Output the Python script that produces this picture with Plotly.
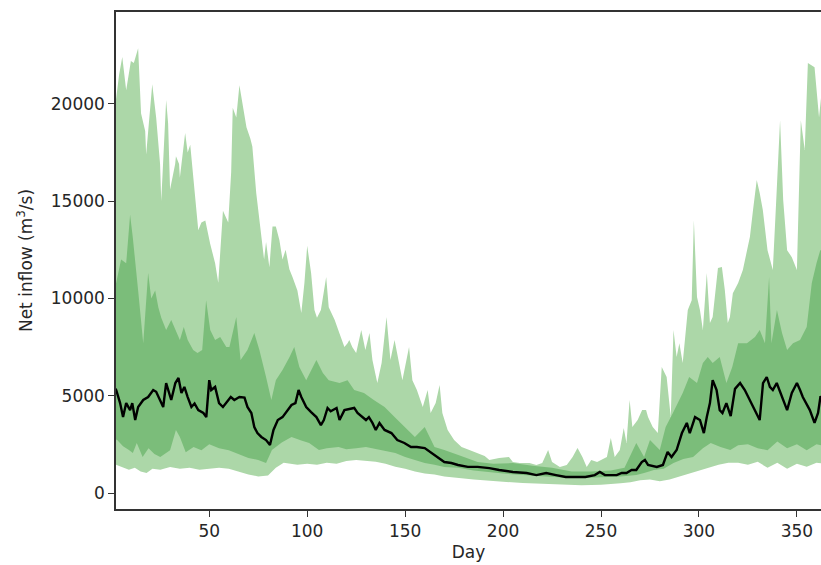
import plotly.graph_objects as go

# ---- data ----
max_days = [1, 2.5, 4, 5.6, 7.6, 10, 11.5, 13.7, 15.2, 17.3, 17.8, 19.5, 20.9, 22.9, 24.9, 25.5, 28, 29, 30, 32.6,
            33, 34.6, 35, 37.7, 39, 40.3, 42.8, 44.4, 46, 48, 50.5, 53, 54.6, 55.6, 57, 59.7, 61.2, 62, 63.8, 65.4,
            67, 69, 71, 72, 74, 76.6, 78, 79, 80.7, 82.3, 84, 85.8, 87.4, 89, 90.9, 92.5, 95, 97, 98.6, 100,
            102, 103.7, 105, 107, 109.7, 111, 114, 116.5, 119, 120.6, 121.5, 123, 125, 127.6, 129.7, 131.8, 133.3, 135.8, 138, 140.5,
            142.5, 144.6, 146, 148.6, 152, 153.7, 156, 159, 161.5, 163, 165.6, 167.6, 169, 171.7, 175, 178.8, 182.8, 187, 190.6, 193,
            198, 203, 205, 208.5, 213.5, 217, 220, 223, 225, 229, 232.5, 235.5, 238, 240.5, 242.7, 245, 248, 250, 253, 255,
            257, 259.6, 261.6, 263, 264.6, 266, 268.7, 271, 273, 274, 276.4, 279, 281, 283.5, 285.6, 287, 288.6, 290, 291.7, 294.3,
            296.3, 297.4, 299, 300.5, 302, 304, 305.6, 307, 309.7, 311.7, 313.2, 314.7, 315.8, 317.3, 320, 322.4, 326, 327.6, 329.5, 331,
            332.6, 335, 337.7, 339.7, 341.4, 343, 345, 347.4, 350, 352, 354, 355.6, 359, 361.3, 363, 365]
max_vals = [19500, 20300, 21500, 22400, 20700, 22200, 22100, 22850, 19500, 18600, 17400, 19500, 21000, 19300, 16900, 15000, 20200, 19000, 15600, 16900,
            17300, 16900, 16200, 18500, 17500, 17900, 15200, 13500, 13900, 14000, 12800, 11800, 10800, 12600, 14500, 13900, 16500, 19800, 19300, 20950,
            20000, 18800, 18200, 17800, 15400, 13000, 12000, 12900, 11600, 13700, 13700, 13000, 12000, 12500, 11500, 11100, 10400, 9250, 10800, 12700,
            11300, 9400, 9000, 9400, 11100, 9550, 8900, 8200, 7500, 7700, 7860, 7500, 7200, 8370, 7350, 8220, 6830, 5650, 6680, 9040,
            6830, 7860, 7190, 5800, 7500, 5800, 5290, 4420, 5290, 4110, 4620, 5550, 4110, 3240, 2720, 2360, 2210, 2050, 1900, 1700,
            1800, 1850, 1590, 1540, 1540, 1440, 1540, 2210, 1590, 1340, 1440, 1850, 2310, 1850, 1340, 1700, 1590, 1700, 1850, 2830,
            1850, 2210, 3340, 2570, 4780, 3390, 3750, 4260, 4260, 3900, 3390, 3080, 6470, 5960, 3900, 8370, 6990, 7700, 6680, 9400,
            9910, 14020, 10070, 9400, 8370, 11300, 8730, 9040, 11560, 11610, 10430, 8730, 9040, 10270, 10790, 11460, 13150, 14540, 16080, 15410,
            14540, 12480, 11460, 15570, 19160, 15050, 12480, 12120, 11460, 19160, 17620, 22090, 21880, 19300, 21000, 20500]

min_days = [1, 3, 6, 9, 12, 15, 18, 21, 25, 30, 35, 40, 45, 50, 55, 60, 65, 70, 75, 80,
            84, 88, 95, 100, 105, 110, 115, 120, 125, 130, 135, 140, 145, 150, 155, 160, 165, 170, 175, 180,
            185, 190, 195, 200, 210, 220, 230, 240, 250, 260, 265, 270, 275, 280, 285, 290, 295, 300, 305, 310,
            315, 320, 325, 330, 335, 340, 345, 350, 355, 360, 365]
min_vals = [1500, 1440, 1300, 1200, 1300, 1100, 1030, 1250, 1200, 1340, 1250, 1300, 1200, 1250, 1300, 1250, 1100, 950, 850, 900,
            1300, 1550, 1450, 1500, 1450, 1550, 1500, 1650, 1700, 1650, 1600, 1500, 1350, 1250, 1100, 1000, 950, 850, 800, 750,
            700, 650, 600, 580, 520, 480, 430, 400, 430, 500, 550, 650, 700, 600, 700, 850, 1000, 1150, 1300, 1450,
            1550, 1550, 1450, 1600, 1300, 1550, 1250, 1500, 1350, 1550, 1500]

q75_days = [1, 2.5, 5, 7.6, 9.6, 11, 13.7, 16.3, 18.8, 20.4, 22.4, 24, 25.5, 28, 30.6, 33, 35, 37, 39, 41.8,
            44, 46.4, 48.4, 50.5, 53, 55.6, 58.7, 60.3, 63.8, 66, 69.5, 73, 75.6, 79, 81.7, 84, 87.4, 91, 93.4, 96,
            99.5, 102, 104.7, 108, 111, 116.5, 120.6, 124, 129, 134, 139.5, 144.6, 149.6, 155, 160, 165, 170, 175, 180, 187,
            195, 205, 215, 225, 235, 245, 255, 262, 268, 272, 275, 280, 283, 286.7, 291.7, 295, 299, 302, 304.5, 307,
            310.6, 314, 317, 320, 324.5, 328.6, 331, 333.7, 335.8, 337, 339.8, 342.4, 345, 348, 351.6, 355, 357.6, 360, 362, 365]
q75_vals = [10500, 10800, 12000, 11800, 14300, 13100, 10400, 7700, 11300, 10000, 10400, 9550, 9000, 8370, 8890, 8370, 7860, 8530, 7860, 7350,
            7190, 7350, 9910, 8370, 7860, 8010, 7500, 7500, 9040, 6830, 7350, 8220, 7350, 5960, 4780, 5800, 6320, 6990, 7500, 6470,
            5800, 6300, 6830, 6160, 5800, 5650, 5800, 5290, 5140, 4780, 4420, 3900, 3390, 2880, 3390, 2360, 2210, 2050, 1850, 1590,
            1500, 1540, 1400, 1300, 1100, 1100, 1150, 1300, 2570, 1850, 2720, 2210, 3390, 4110, 5140, 5960, 5650, 6680, 6990, 6680,
            6990, 5650, 6470, 7700, 7700, 8010, 8370, 7700, 11100, 7700, 9400, 8220, 7350, 7700, 7860, 8530, 10790, 11810, 12500, 12000]

q25_days = [1, 3, 6, 9, 11, 13, 16, 19, 22, 25, 30, 33, 35, 38, 42, 46, 50, 55, 60, 65,
            70, 75, 79, 82, 87, 92, 97, 101, 106, 110, 116, 120, 125, 130, 135, 140, 145, 150, 155, 160,
            165, 170, 177, 185, 190, 200, 210, 220, 230, 240, 250, 260, 268, 272, 277, 282, 287, 292, 297, 302,
            306, 311, 316, 320, 325, 330, 335, 340, 345, 350, 355, 360, 365]
q25_vals = [2800, 2720, 2400, 2210, 2050, 2570, 1850, 2300, 2000, 1850, 2200, 3240, 2880, 2100, 2360, 2200, 2500, 2300, 2200, 2000,
            1800, 1700, 1540, 2210, 2600, 2880, 2700, 2570, 2210, 2300, 2360, 2250, 2300, 2360, 2250, 2150, 2050, 1850, 1700, 1540,
            1450, 1340, 1300, 1150, 1080, 1000, 920, 850, 800, 770, 800, 850, 920, 1030, 1180, 1250, 1540, 1750, 1850, 2300,
            2570, 2360, 2210, 2450, 2500, 2300, 2200, 2650, 2300, 2500, 2200, 2500, 2400]

med_days = [1, 2.5, 4.5, 6, 7.6, 9.6, 10.7, 12.2, 13.7, 16.3, 18.8, 21.4, 22.9, 25, 26.5, 28, 29, 30.6, 32.7, 34.3,
            35.8, 37.3, 39, 40.9, 42.5, 44.4, 47, 48.5, 50, 51, 53, 55, 57, 59.7, 61, 62.8, 65.4, 68, 69.5, 71.5,
            73, 74.6, 76.6, 79, 81, 82.8, 85, 87.4, 90, 92, 94, 95.6, 97, 99.5, 102, 104.7, 107, 108.5, 110.4, 112,
            115, 116.5, 119, 121, 124, 125.7, 128, 130, 131.5, 133.3, 135, 136.9, 139.5, 143, 146, 149.6, 153, 156, 160, 163.5,
            166.6, 170, 173.6, 177, 182, 187, 193, 198, 205, 212, 217, 222, 227, 232, 237, 242, 246.8, 249.4, 252, 255.5,
            258, 260.6, 263, 265.6, 268, 270.8, 272.4, 274, 278.5, 281.6, 284, 286, 288.6, 291.3, 293.8, 295.3, 298, 300.5, 302.5, 304,
            305.6, 307, 309, 310.6, 312, 314, 316.2, 318.4, 321, 323.4, 326, 328.6, 331, 332.7, 334.6, 336.2, 337.7, 339.7, 342.4, 345,
            347.4, 350, 351.6, 353, 356.6, 359, 360.8, 362, 365]
med_vals = [5500, 5290, 4620, 3900, 4620, 4260, 4620, 3750, 4420, 4780, 4930, 5290, 5200, 4780, 4420, 5650, 5290, 4780, 5650, 5910,
            5140, 5450, 4930, 4420, 4600, 4260, 4110, 3900, 5800, 5290, 5450, 4620, 4420, 4780, 4930, 4780, 4930, 4900, 4420, 4110,
            3390, 3080, 2880, 2720, 2470, 3240, 3750, 3900, 4260, 4520, 4620, 5290, 4930, 4420, 4160, 3900, 3490, 3750, 4370, 4200,
            4370, 3750, 4260, 4300, 4370, 4110, 3900, 3750, 3900, 3600, 3240, 3600, 3240, 3080, 2720, 2570, 2360, 2360, 2310, 2050,
            1800, 1590, 1540, 1440, 1340, 1340, 1280, 1180, 1080, 1030, 920, 1030, 920, 820, 820, 820, 920, 1080, 920, 920,
            920, 1030, 1030, 1180, 1180, 1590, 1700, 1440, 1340, 1440, 2110, 1850, 2210, 3080, 3600, 3080, 3900, 3750, 3080, 3900,
            4620, 5800, 5290, 4260, 4110, 4620, 3950, 5350, 5650, 5290, 4780, 4260, 3750, 5650, 5960, 5450, 5290, 5650, 4930, 4260,
            5140, 5650, 5290, 4930, 4260, 3600, 4110, 4930, 5000]

y_ticks = [0, 5000, 10000, 15000, 20000]
y_tick_labels = ["0", "5000", "10000", "15000", "20000"]
x_ticks = [50, 100, 150, 200, 250, 300, 350]

LIGHT = "#acd7a8"
DARK = "#7bbd7a"

fig = go.Figure()
fig.add_trace(go.Scatter(
    x=max_days + min_days[::-1], y=max_vals + min_vals[::-1],
    fill="toself", fillcolor=LIGHT, line=dict(width=0), mode="lines",
    hoverinfo="skip", showlegend=False))
fig.add_trace(go.Scatter(
    x=q75_days + q25_days[::-1], y=q75_vals + q25_vals[::-1],
    fill="toself", fillcolor=DARK, line=dict(width=0), mode="lines",
    hoverinfo="skip", showlegend=False))
fig.add_trace(go.Scatter(
    x=med_days, y=med_vals, mode="lines",
    line=dict(color="black", width=2.4), showlegend=False))

font = dict(family="DejaVu Sans", size=17, color="#262626")
fig.update_layout(
    width=821, height=565,
    margin=dict(l=116, r=0, t=12, b=56),
    paper_bgcolor="white", plot_bgcolor="white",
    font=font,
    xaxis=dict(range=[2.4, 362.3], tickvals=x_ticks, ticks="outside", ticklen=6,
               tickcolor="#333", showline=True, linecolor="#333", linewidth=1.5,
               mirror=True, showgrid=False, zeroline=False,
               title=dict(text="Day", font=font, standoff=6)),
    yaxis=dict(range=[-822, 24716], tickvals=y_ticks, ticktext=y_tick_labels,
               ticks="outside", ticklen=6,
               tickcolor="#333", showline=True, linecolor="#333", linewidth=1.5,
               showgrid=False, zeroline=False,
               title=dict(text="Net inflow (m<sup>3</sup>/s)", font=font, standoff=14)),
)

fig.write_html("out.html")
